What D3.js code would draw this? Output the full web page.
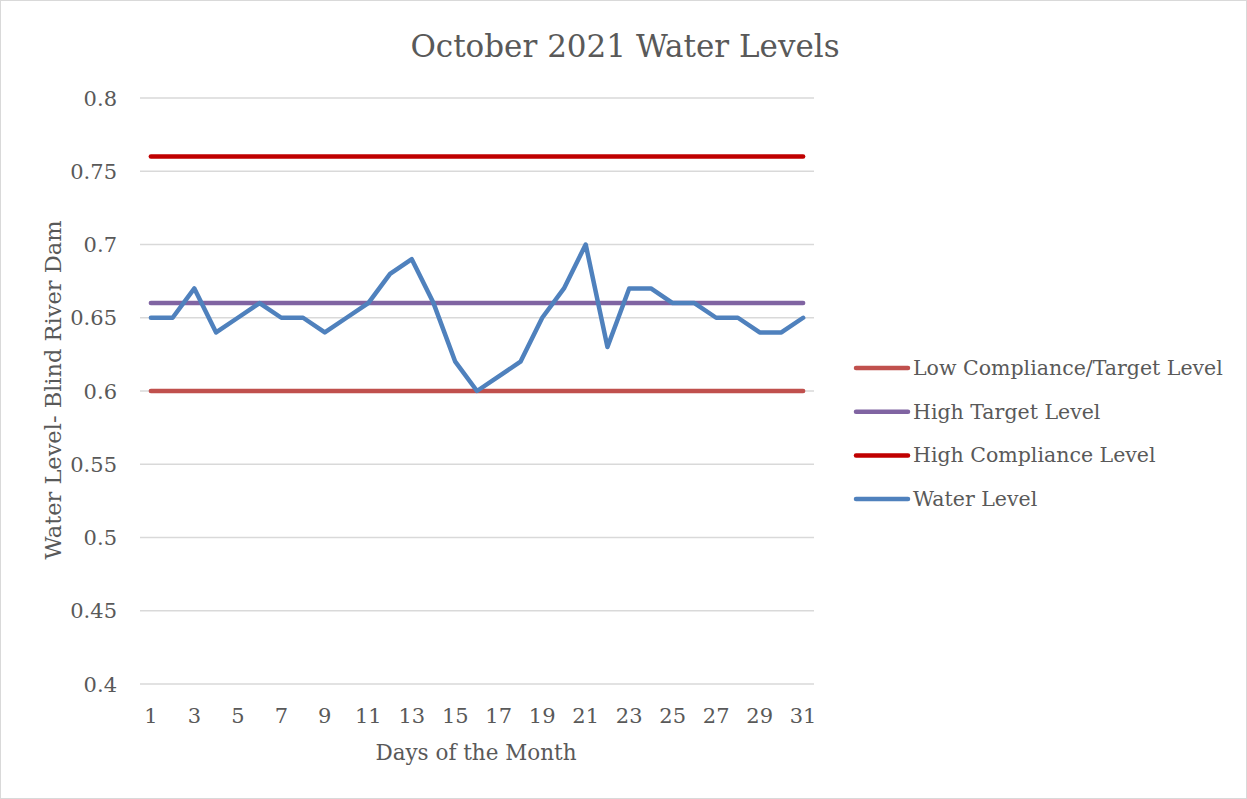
<!DOCTYPE html>
<html>
<head>
<meta charset="utf-8">
<script src="https://cdn.jsdelivr.net/npm/d3@7"></script>
<style>
  html, body { margin: 0; padding: 0; background: #fff; }
  svg { display: block; }
  text { font-family: "DejaVu Serif", "Liberation Serif", serif; fill: #595959; }
</style>
</head>
<body>
<svg id="chart" width="1247" height="799"></svg>
<script>
const days = d3.range(1, 32);
const waterLevel = [0.65, 0.65, 0.67, 0.64, 0.65, 0.66, 0.65, 0.65, 0.64, 0.65,
    0.66, 0.68, 0.69, 0.66, 0.62, 0.60, 0.61, 0.62, 0.65, 0.67,
    0.70, 0.63, 0.67, 0.67, 0.66, 0.66, 0.65, 0.65, 0.64, 0.64, 0.65];
const lowCompliance = days.map(() => 0.60);
const highTarget = days.map(() => 0.66);
const highCompliance = days.map(() => 0.76);
const yTicks = [0.4, 0.45, 0.5, 0.55, 0.6, 0.65, 0.7, 0.75, 0.8];
const xTickLabels = days.filter(d => d % 2 === 1);

const series = [
    { name: "Low Compliance/Target Level", values: lowCompliance, color: "#C0504D" },
    { name: "High Target Level", values: highTarget, color: "#8064A2" },
    { name: "High Compliance Level", values: highCompliance, color: "#C00000" },
    { name: "Water Level", values: waterLevel, color: "#4F81BD" }
];

const
    svg = d3.select("#chart"),
    margin = { left: 140, right: 433, top: 98, bottom: 115 },
    W = 1247, H = 799;

svg.append("rect")
    .attr("x", 0.5).attr("y", 0.5)
    .attr("width", W - 1).attr("height", H - 1)
    .attr("fill", "#fff").attr("stroke", "#D9D9D9");

const x = d3.scaleBand()
    .domain(days)
    .range([margin.left, W - margin.right]);

const y = d3.scaleLinear()
    .domain([0.4, 0.8])
    .range([H - margin.bottom, margin.top]);

// gridlines
svg.append("g")
    .selectAll("line")
    .data(yTicks)
    .join("line")
    .attr("x1", margin.left).attr("x2", W - margin.right)
    .attr("y1", d => y(d)).attr("y2", d => y(d))
    .attr("stroke", "#D9D9D9").attr("stroke-width", 1.3);

// y tick labels
svg.append("g")
    .selectAll("text")
    .data(yTicks)
    .join("text")
    .attr("x", 117)
    .attr("y", d => y(d) + 7.5)
    .attr("text-anchor", "end")
    .attr("font-size", 21)
    .text(d => d3.format("~g")(d));

// x tick labels
svg.append("g")
    .selectAll("text")
    .data(xTickLabels)
    .join("text")
    .attr("x", d => x(d) + x.bandwidth() / 2)
    .attr("y", 723)
    .attr("text-anchor", "middle")
    .attr("font-size", 21)
    .text(d => d);

const line = d3.line()
    .x((d, i) => x(days[i]) + x.bandwidth() / 2)
    .y(d => y(d));

svg.append("g")
    .selectAll("path")
    .data(series)
    .join("path")
    .attr("d", s => line(s.values))
    .attr("fill", "none")
    .attr("stroke", s => s.color)
    .attr("stroke-width", 4.5)
    .attr("stroke-linejoin", "round")
    .attr("stroke-linecap", "round");

// title
svg.append("text")
    .attr("x", 625).attr("y", 57)
    .attr("text-anchor", "middle")
    .attr("font-size", 31)
    .text("October 2021 Water Levels");

// axis titles
svg.append("text")
    .attr("x", 476).attr("y", 760)
    .attr("text-anchor", "middle")
    .attr("font-size", 21.5)
    .text("Days of the Month");

svg.append("text")
    .attr("transform", "translate(61,390) rotate(-90)")
    .attr("text-anchor", "middle")
    .attr("font-size", 22.5)
    .text("Water Level- Blind River Dam");

// legend
const legend = svg.append("g")
    .selectAll("g")
    .data(series)
    .join("g")
    .attr("transform", (d, i) => `translate(856,${368 + i * 43.7})`);

legend.append("line")
    .attr("x1", 0).attr("x2", 52)
    .attr("stroke", d => d.color)
    .attr("stroke-width", 4.5)
    .attr("stroke-linecap", "round");

legend.append("text")
    .attr("x", 57).attr("y", 7)
    .attr("font-size", 20.5)
    .text(d => d.name);
</script>
</body>
</html>
